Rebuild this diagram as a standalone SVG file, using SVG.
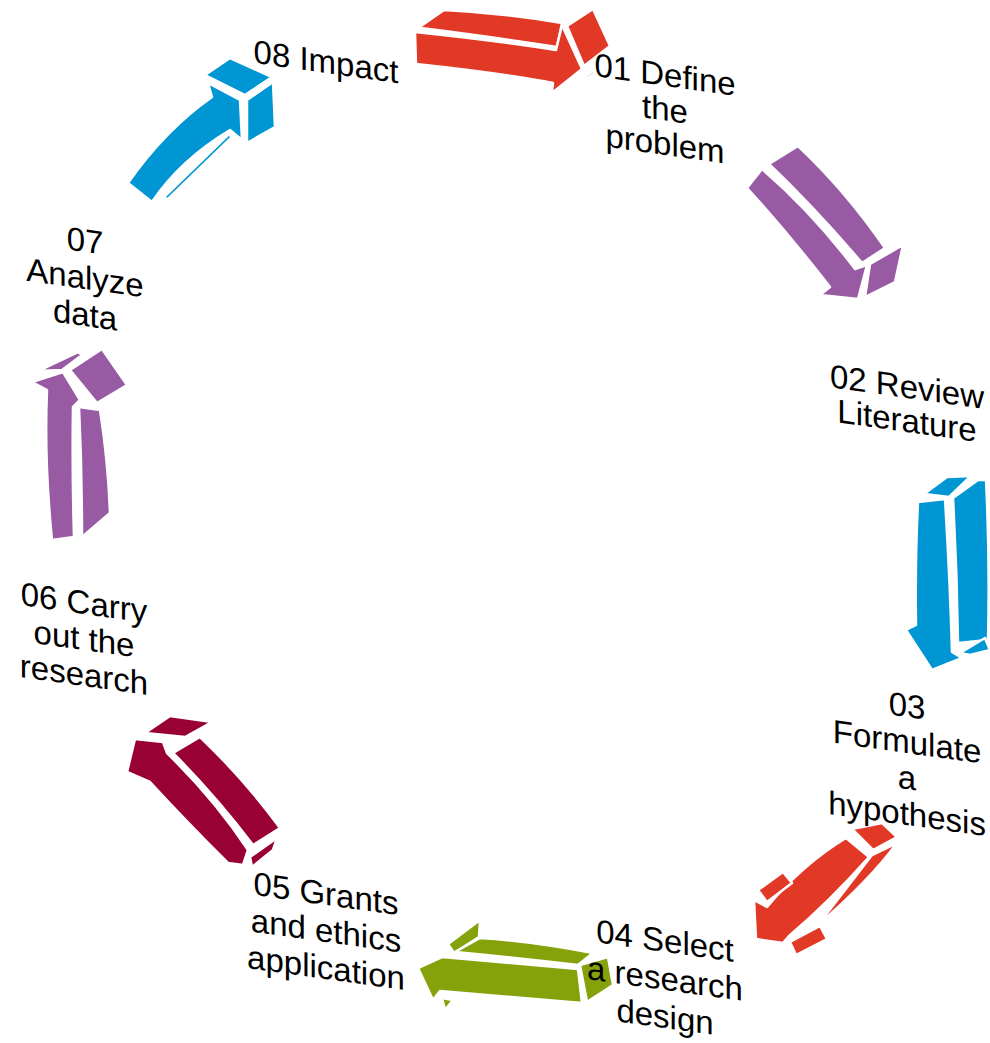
<svg xmlns="http://www.w3.org/2000/svg" width="990" height="1043" viewBox="0 0 990 1043">
<style>
.lbl{font-family:"Liberation Sans",Arial,sans-serif;font-size:33px;fill:#000;text-anchor:middle}
.a path,.a polygon{stroke:#fff;stroke-width:2.5;stroke-linejoin:round}
.red{fill:#E23826}.pur{fill:#975AA3}.blu{fill:#0096D4}.grn{fill:#86A20B}.mar{fill:#990033}
</style>
<rect width="990" height="1043" fill="#fff"/>
<g id="connectors">
<g id="arrow1" class="a red">
<path d="M421,26 L444,10 Q505,13 562,23 L557,47 Q500,38 421,28 Z"/>
<path d="M415,32 Q500,41 556,50 L562,25 L582,69 L552,93 L553,83 Q500,73 416,64 Z"/>
<polygon points="567,26 593,9 610,46 584,66"/>
<polygon points="570,88 593,71 595,73 572,89"/>
</g>
<g id="arrow2" class="a pur">
<path d="M769,164 L798,146 Q845,190 885,248 L862,263 Q815,208 769,164 Z"/>
<path d="M747,188 L762,169 Q812,212 855,269 L867,265 L858,299 L820,295 L830,287 Q788,233 747,188 Z"/>
<polygon points="870,264 903,245 895,282 865,297"/>
</g>
<g id="arrow3" class="a blu">
<polygon points="924,494 947,477 971,476 949,497"/>
<path d="M918,502 L945,499 Q950,580 952,652 L962,658 L932,670 L906,630 L916,625 Q915,560 918,502 Z"/>
<path d="M953,498 L978,480 L986,480 Q990,560 988,640 L958,643 Q957,570 953,498 Z"/>
<polygon points="960,653 985,638 990,650 970,655"/>
</g>
<g id="arrow4" class="a red">
<polygon points="852,829 882,823 897,837 873,850"/>
<path d="M846,838 L869,857 Q829,902 789,936 L783,943 L756,939 L754,900 L767,907 Q803,864 846,838 Z"/>
<path d="M872,855 L897,843 Q870,880 818,925 Q845,890 872,855 Z"/>
<polygon points="758,890 783,872 792,883 767,902"/>
<polygon points="790,942 820,926 827,939 796,955"/>
</g>
<g id="arrow5" class="a grn">
<polygon points="448,944 480,920 479,937 454,953"/>
<path d="M455,952 L480,938 Q530,941 593,953 L578,965 Q520,958 455,952 Z"/>
<path d="M442,957 Q500,962 578,969 L582,1003 Q500,996 440,991 L433,1000 L418,968 Z"/>
<polygon points="580,965 608,957 613,985 587,1002"/>
<polygon points="442,998 453,1000 445,1010"/>
</g>
<g id="arrow6" class="a mar">
<polygon points="145,733 170,716 212,722 185,737"/>
<path d="M135,739 L163,742 L167,753 Q215,800 248,850 L243,865 L228,863 Q185,820 150,782 L127,772 Z"/>
<path d="M173,753 L200,737 Q245,780 280,828 L253,845 Q215,795 173,753 Z"/>
<polygon points="250,857 277,838 273,850 252,867"/>
</g>
<g id="arrow7" class="a pur">
<polygon points="38,371 78,352 82,355 62,370"/>
<polygon points="70,370 102,349 127,385 97,403"/>
<path d="M63,372 L80,400 L73,407 Q72,470 74,537 L52,540 Q44,460 47,390 L32,382 Z"/>
<path d="M79,407 L100,410 Q108,460 110,513 L82,537 Q82,470 79,407 Z"/>
</g>
<g id="arrow8" class="a blu">
<polygon points="205,75 230,58 272,77 245,95"/>
<polygon points="247,100 273,82 275,127 247,143"/>
<path d="M208,83 L240,100 L242,140 L230,130 Q180,160 152,202 L128,183 Q165,130 212,97 Z"/>
<polygon points="163,198 230,133 231,138 168,199"/>
</g>
</g>
<g id="n01" class="lbl" transform="translate(665,86) skewY(8)"><text x="0" y="0">01 Define</text><text x="0" y="34.5">the</text><text x="0" y="69">problem</text></g>
<g id="n02" class="lbl" transform="translate(907,398) skewY(8)"><text x="0" y="0">02 Review</text><text x="0" y="34">Literature</text></g>
<g id="n03" class="lbl" transform="translate(907,717) skewY(8)"><text x="0" y="0">03</text><text x="0" y="36">Formulate</text><text x="0" y="72">a</text><text x="0" y="108">hypothesis</text></g>
<g id="n04" class="lbl" transform="translate(665,952) skewY(8)"><text x="0" y="0">04 Select</text><text x="0" y="38">a research</text><text x="0" y="76">design</text></g>
<g id="n05" class="lbl" transform="translate(326,905) skewY(8)"><text x="0" y="0">05 Grants</text><text x="0" y="37">and ethics</text><text x="0" y="74">application</text></g>
<g id="n06" class="lbl" transform="translate(84,614) skewY(8)"><text x="0" y="0">06 Carry</text><text x="0" y="36">out the</text><text x="0" y="72">research</text></g>
<g id="n07" class="lbl" transform="translate(85,252) skewY(8)"><text x="0" y="0">07</text><text x="0" y="37">Analyze</text><text x="0" y="74">data</text></g>
<g id="n08" class="lbl" transform="translate(326,73) skewY(8)"><text x="0" y="0">08 Impact</text></g>
</svg>
